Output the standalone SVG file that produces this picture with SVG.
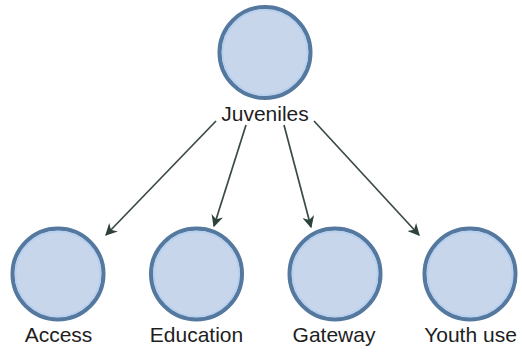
<svg xmlns="http://www.w3.org/2000/svg" width="522" height="352" viewBox="0 0 522 352">
  <style>
    .ring { fill: #c7d6eb; stroke: #55789f; stroke-width: 4; }
    .inner { fill: none; stroke: #b4cff0; stroke-width: 1.5; }
    .label { font-family: "Liberation Sans", Arial, sans-serif; font-size: 21px; fill: #1e1e1e; text-anchor: middle; }
    .edge { stroke: #3a4a46; stroke-width: 1.7; fill: none; marker-end: url(#arrow); }
  </style>
  <defs>
    <marker id="arrow" viewBox="0 0 10 10" refX="9" refY="5" markerWidth="14" markerHeight="12" markerUnits="userSpaceOnUse" orient="auto">
      <path d="M0,0 L10,5 L0,10 L3,5 Z" fill="#2d423d"/>
    </marker>
  </defs>
  <rect width="522" height="352" fill="#ffffff"/>

  <g id="connectors">
    <line class="edge" x1="216" y1="121" x2="106" y2="235"/>
    <line class="edge" x1="246" y1="125" x2="214" y2="226"/>
    <line class="edge" x1="284" y1="125" x2="311" y2="227"/>
    <line class="edge" x1="314" y1="121" x2="419" y2="235"/>
  </g>

  <g id="juveniles">
    <circle class="ring" cx="265" cy="52.5" r="45.5"/>
    <circle class="inner" cx="265" cy="52.5" r="42.5"/>
    <text class="label" x="265" y="121">Juveniles</text>
  </g>
  <g id="access">
    <circle class="ring" cx="58" cy="274" r="45.5"/>
    <circle class="inner" cx="58" cy="274" r="42.5"/>
    <text class="label" x="58.5" y="342">Access</text>
  </g>
  <g id="education">
    <circle class="ring" cx="196.5" cy="274" r="45.5"/>
    <circle class="inner" cx="196.5" cy="274" r="42.5"/>
    <text class="label" x="196.5" y="342">Education</text>
  </g>
  <g id="gateway">
    <circle class="ring" cx="335" cy="274" r="45.5"/>
    <circle class="inner" cx="335" cy="274" r="42.5"/>
    <text class="label" x="334" y="342">Gateway</text>
  </g>
  <g id="youth-use">
    <circle class="ring" cx="470" cy="274" r="45.5"/>
    <circle class="inner" cx="470" cy="274" r="42.5"/>
    <text class="label" x="470.5" y="342">Youth use</text>
  </g>
</svg>
